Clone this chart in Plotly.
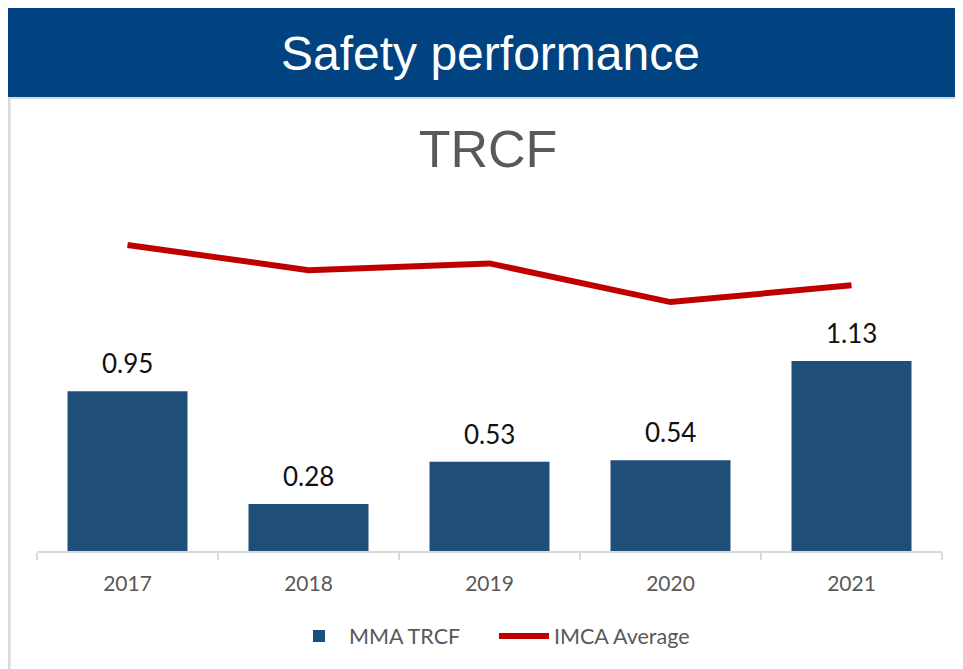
"""Safety performance: MMA TRCF bars against the IMCA average line."""

import plotly.graph_objects as go

YEARS = ["2017", "2018", "2019", "2020", "2021"]
MMA_TRCF = [0.95, 0.28, 0.53, 0.54, 1.13]
IMCA_AVERAGE = [1.82, 1.67, 1.71, 1.48, 1.58]

HEADER_TEXT = "Safety performance"
CHART_TITLE = "TRCF"

COLOR_HEADER = "#004380"
COLOR_BAR = "#1F4E79"
COLOR_LINE = "#C00000"
COLOR_TEXT_GREY = "#595959"
COLOR_BORDER = "#D9D9D9"

WIDTH, HEIGHT = 963, 669
# The page body adds an 8px margin, so positions measured on screen
# are shifted by this much relative to the figure.
PAGE_OFFSET = 8
# plot area in screen pixels (x axis line 37..942, zero line at y=551)
PLOT_L, PLOT_R, PLOT_T, PLOT_B = 37, 942, 181, 551
Y_MAX = 2.2

BODY_FONT = "Lato, 'Open Sans', sans-serif"
HEAD_FONT = "'Liberation Sans', Arial, sans-serif"


def px_to_paper_x(px):
    return (px - PLOT_L) / (PLOT_R - PLOT_L)


def px_to_paper_y(py):
    return (PLOT_B - py) / (PLOT_B - PLOT_T)


fig = go.Figure()
fig.add_trace(
    go.Bar(
        x=YEARS,
        y=MMA_TRCF,
        name="MMA TRCF",
        marker={"color": COLOR_BAR, "line": {"width": 0}},
    )
)
fig.add_trace(
    go.Scatter(
        x=YEARS,
        y=IMCA_AVERAGE,
        name="IMCA Average",
        mode="lines",
        line={"color": COLOR_LINE, "width": 6},
    )
)

# value labels above the bars; x is the category index, since numeric-looking
# strings would otherwise be read as positions on the category axis
for idx, val in enumerate(MMA_TRCF):
    fig.add_annotation(
        x=idx,
        y=val,
        text=f"{val:.2f}",
        showarrow=False,
        yanchor="bottom",
        yshift=10,
        font={"family": BODY_FONT, "size": 26, "color": "#111111"},
    )

# blue header band with white heading
fig.add_shape(
    type="rect",
    xref="paper",
    yref="paper",
    x0=px_to_paper_x(8),
    x1=px_to_paper_x(975),
    y0=px_to_paper_y(97),
    y1=px_to_paper_y(8),
    fillcolor=COLOR_HEADER,
    line={"width": 0},
    layer="below",
)
fig.add_annotation(
    xref="paper",
    yref="paper",
    x=px_to_paper_x(490),
    y=px_to_paper_y(53),
    text=HEADER_TEXT,
    showarrow=False,
    xanchor="center",
    yanchor="middle",
    font={"family": HEAD_FONT, "size": 48, "color": "white"},
)

# thin grey frame under the header and on the left
fig.add_shape(
    type="line",
    xref="paper",
    yref="paper",
    x0=px_to_paper_x(8),
    x1=px_to_paper_x(975),
    y0=px_to_paper_y(98),
    y1=px_to_paper_y(98),
    line={"color": COLOR_BORDER, "width": 2},
)
fig.add_shape(
    type="line",
    xref="paper",
    yref="paper",
    x0=px_to_paper_x(9),
    x1=px_to_paper_x(9),
    y0=px_to_paper_y(98),
    y1=px_to_paper_y(680),
    line={"color": COLOR_BORDER, "width": 3},
)

fig.update_layout(
    width=WIDTH,
    height=HEIGHT,
    margin={
        "l": PLOT_L - PAGE_OFFSET,
        "r": WIDTH - (PLOT_R - PAGE_OFFSET),
        "t": PLOT_T - PAGE_OFFSET,
        "b": HEIGHT - (PLOT_B - PAGE_OFFSET),
        "pad": 0,
    },
    paper_bgcolor="white",
    plot_bgcolor="white",
    bargap=0.337,
    title={
        "text": CHART_TITLE,
        "x": px_to_paper_x(488),
        "xref": "paper",
        "xanchor": "center",
        "y": 1 - (149 - PAGE_OFFSET) / HEIGHT,
        "yanchor": "middle",
        "font": {"family": HEAD_FONT, "size": 52, "color": COLOR_TEXT_GREY},
    },
    xaxis={
        "type": "category",
        "range": [-0.5, len(YEARS) - 0.5],
        "showline": True,
        "linecolor": COLOR_BORDER,
        "linewidth": 2,
        "ticks": "outside",
        "tickson": "boundaries",
        "ticklen": 7,
        "tickwidth": 2,
        "tickcolor": COLOR_BORDER,
        "ticklabelstandoff": 13,
        "tickfont": {"family": BODY_FONT, "size": 21, "color": COLOR_TEXT_GREY},
        "showgrid": False,
        "fixedrange": True,
    },
    yaxis={
        "range": [0, Y_MAX],
        "visible": False,
        "showgrid": False,
        "zeroline": False,
    },
    legend={
        "orientation": "h",
        "x": px_to_paper_x(494),
        "xanchor": "center",
        "y": px_to_paper_y(636),
        "yanchor": "middle",
        "font": {"family": BODY_FONT, "size": 21.5, "color": COLOR_TEXT_GREY},
        "itemwidth": 50,
        "entrywidth": 140,
        "entrywidthmode": "pixels",
        "bgcolor": "rgba(0,0,0,0)",
    },
    showlegend=True,
)

fig.write_html("out.html")
